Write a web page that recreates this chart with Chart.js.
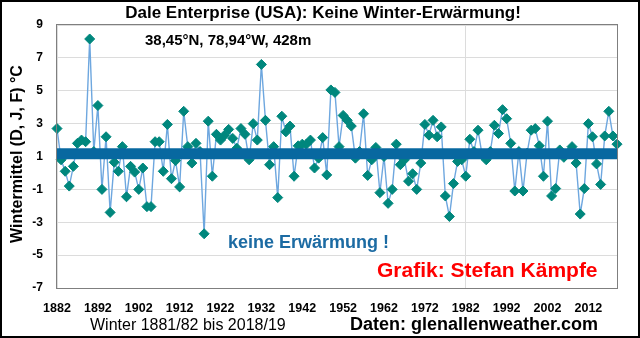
<!DOCTYPE html>
<html>
<head>
<meta charset="utf-8">
<script src="https://cdn.jsdelivr.net/npm/chart.js@4.4.0/dist/chart.umd.min.js"></script>
<style>
  html, body { margin: 0; padding: 0; background: #fff; }
  #wrap { width: 640px; height: 338px; position: relative; }
</style>
</head>
<body>
<div id="wrap"><canvas id="mainChart"></canvas></div>
<script>
// Winters 1881/82 .. 2018/19, labelled by the January year
const years = [
    1882, 1883, 1884, 1885, 1886, 1887, 1888, 1889, 1890, 1891,
    1892, 1893, 1894, 1895, 1896, 1897, 1898, 1899, 1900, 1901,
    1902, 1903, 1904, 1905, 1906, 1907, 1908, 1909, 1910, 1911,
    1912, 1913, 1914, 1915, 1916, 1917, 1918, 1919, 1920, 1921,
    1922, 1923, 1924, 1925, 1926, 1927, 1928, 1929, 1930, 1931,
    1932, 1933, 1934, 1935, 1936, 1937, 1938, 1939, 1940, 1941,
    1942, 1943, 1944, 1945, 1946, 1947, 1948, 1949, 1950, 1951,
    1952, 1953, 1954, 1955, 1956, 1957, 1958, 1959, 1960, 1961,
    1962, 1963, 1964, 1965, 1966, 1967, 1968, 1969, 1970, 1971,
    1972, 1973, 1974, 1975, 1976, 1977, 1978, 1979, 1980, 1981,
    1982, 1983, 1984, 1985, 1986, 1987, 1988, 1989, 1990, 1991,
    1992, 1993, 1994, 1995, 1996, 1997, 1998, 1999, 2000, 2001,
    2002, 2003, 2004, 2005, 2006, 2007, 2008, 2009, 2010, 2011,
    2012, 2013, 2014, 2015, 2016, 2017, 2018, 2019
];

// mean of Dec, Jan, Feb in °C
const winterMean = [
     2.7,  0.8,  0.1, -0.8,  0.4,  1.8,  2.0,  1.9,  8.15, 1.3,
     4.1, -1.0,  2.2, -2.4,  0.65, 0.1,  1.6, -1.45, 0.4,  0.05,
    -1.0,  0.3, -2.05, -2.05, 1.9,  1.9,  0.1,  2.95, -0.35, 0.75,
    -0.85, 3.75, 1.6,  0.6,  1.8,  1.3, -3.7,  3.15, -0.2,  2.35,
     2.0,  2.3,  2.65, 2.1,  1.5,  2.7,  2.35, 0.8,  3.0,  2.0,
     6.6,  3.2,  0.5,  1.6, -1.5,  3.45, 2.5,  2.85, -0.2,  1.65,
     1.75, 1.75, 2.0,  0.3,  0.9,  2.15, -0.12, 5.05, 4.9,  1.6,
     3.5,  3.2,  2.85, 0.9,  1.3,  3.6, -0.15, 0.8,  1.55, -1.2,
     1.0, -1.85, -1.0,  1.75, 0.5,  0.8, -0.5, -0.05, -1.0,  0.6,
     2.95, 2.3,  3.2,  2.2,  2.8, -1.4, -2.65, -0.65, 0.7,  0.8,
    -0.2,  2.05, 1.3,  2.6,  1.1,  0.8,  1.3,  2.9,  2.4,  3.85,
     3.3,  1.8, -1.1,  1.3, -1.1,  1.2,  2.6,  2.7,  1.65, -0.2,
     3.15, -1.4, -0.95, 1.4,  0.95, 1.2,  1.6,  0.6, -2.5, -0.95,
     3.0,  2.2,  0.55, -0.7, 2.25, 3.75, 2.25, 1.75
];

// linear trend, value at the first and the last winter
const trendStart = 1.17;
const trendEnd = 1.17;

const xTickYears = [1882, 1892, 1902, 1912, 1922, 1932, 1942, 1952, 1962, 1972, 1982, 1992, 2002, 2012];
const yTicks = [-7, -5, -3, -1, 1, 3, 5, 7, 9];

const FONT = '"Liberation Sans", Arial, sans-serif';

const trendData = years.map((y, i) => {
    if (i === 0) return trendStart;
    if (i === years.length - 1) return trendEnd;
    return null;
});

const decorations = {
    id: 'decorations',
    beforeDraw(chart) {
        const ctx = chart.ctx;
        ctx.save();
        ctx.fillStyle = '#ffffff';
        ctx.fillRect(0, 0, chart.width, chart.height);
        ctx.restore();
    },
    afterDraw(chart) {
        const ctx = chart.ctx;
        const a = chart.chartArea;
        ctx.save();

        // plot frame
        ctx.strokeStyle = '#7f7f7f';
        ctx.lineWidth = 1;
        ctx.strokeRect(a.left - 0.5, a.top - 0.5, a.right - a.left + 1, a.bottom - a.top + 1);

        // outer frame
        ctx.strokeStyle = '#000000';
        ctx.lineWidth = 2;
        ctx.strokeRect(1, 1, chart.width - 2, chart.height - 2);

        ctx.textBaseline = 'middle';
        ctx.fillStyle = '#000000';

        ctx.textAlign = 'center';
        ctx.font = 'bold 17px ' + FONT;
        ctx.fillText('Dale Enterprise (USA): Keine Winter-Erwärmung!', 323, 13);

        ctx.textAlign = 'left';
        ctx.font = 'bold 15px ' + FONT;
        ctx.fillText('38,45°N, 78,94°W, 428m', 145, 41);

        ctx.fillStyle = '#1c6ba3';
        ctx.font = 'bold 18px ' + FONT;
        ctx.fillText('keine Erwärmung !', 228, 243);

        ctx.fillStyle = '#ff0000';
        ctx.font = 'bold 21px ' + FONT;
        ctx.fillText('Grafik: Stefan Kämpfe', 377, 271);

        ctx.fillStyle = '#000000';
        ctx.font = '16px ' + FONT;
        ctx.fillText('Winter 1881/82 bis 2018/19', 90, 326);

        ctx.font = 'bold 18px ' + FONT;
        ctx.fillText('Daten: glenallenweather.com', 350, 325);

        // y axis title
        ctx.translate(18, 154);
        ctx.rotate(-Math.PI / 2);
        ctx.textAlign = 'center';
        ctx.font = 'bold 16px ' + FONT;
        ctx.fillText('Wintermittel (D, J, F) °C', 0, 0);

        ctx.restore();
    }
};

const ctx = document.getElementById('mainChart').getContext('2d');

const chart = new Chart(ctx, {
    type: 'line',
    data: {
        labels: years,
        datasets: [
            {
                label: 'Trend',
                data: trendData,
                borderColor: '#0868a0',
                borderWidth: 11,
                borderCapStyle: 'butt',
                pointRadius: 0,
                spanGaps: true,
                order: 0
            },
            {
                label: 'Wintermittel',
                data: winterMean,
                borderColor: '#6ea7df',
                borderWidth: 1.4,
                pointStyle: 'rectRot',
                pointRadius: 5,
                pointBackgroundColor: '#00877d',
                pointBorderColor: '#00877d',
                pointBorderWidth: 1,
                tension: 0,
                clip: 8,
                order: 1
            }
        ]
    },
    options: {
        responsive: true,
        maintainAspectRatio: false,
        animation: false,
        events: [],
        layout: {
            padding: { top: 25, right: 23, left: 0, bottom: 0 }
        },
        plugins: {
            legend: { display: false },
            title: { display: false },
            tooltip: { enabled: false }
        },
        scales: {
            x: {
                type: 'category',
                offset: false,
                afterFit: (scale) => { scale.height = 50; },
                grid: {
                    color: (c) => xTickYears.includes(years[c.index]) ? '#dcdcdc' : 'rgba(0,0,0,0)',
                    drawTicks: false
                },
                border: { display: false },
                ticks: {
                    autoSkip: false,
                    maxRotation: 0,
                    padding: 13,
                    color: '#000000',
                    font: { family: FONT, size: 12.5, weight: 'bold' },
                    callback: function (value, index) {
                        const y = years[index];
                        return xTickYears.includes(y) ? String(y) : null;
                    }
                }
            },
            y: {
                min: yTicks[0],
                max: yTicks[yTicks.length - 1],
                afterFit: (scale) => { scale.width = 57; },
                grid: {
                    color: '#dcdcdc',
                    drawTicks: false
                },
                border: { display: false },
                ticks: {
                    stepSize: 2,
                    padding: 14,
                    color: '#000000',
                    font: { family: FONT, size: 12, weight: 'bold' }
                }
            }
        }
    },
    plugins: [decorations]
});
</script>
</body>
</html>
